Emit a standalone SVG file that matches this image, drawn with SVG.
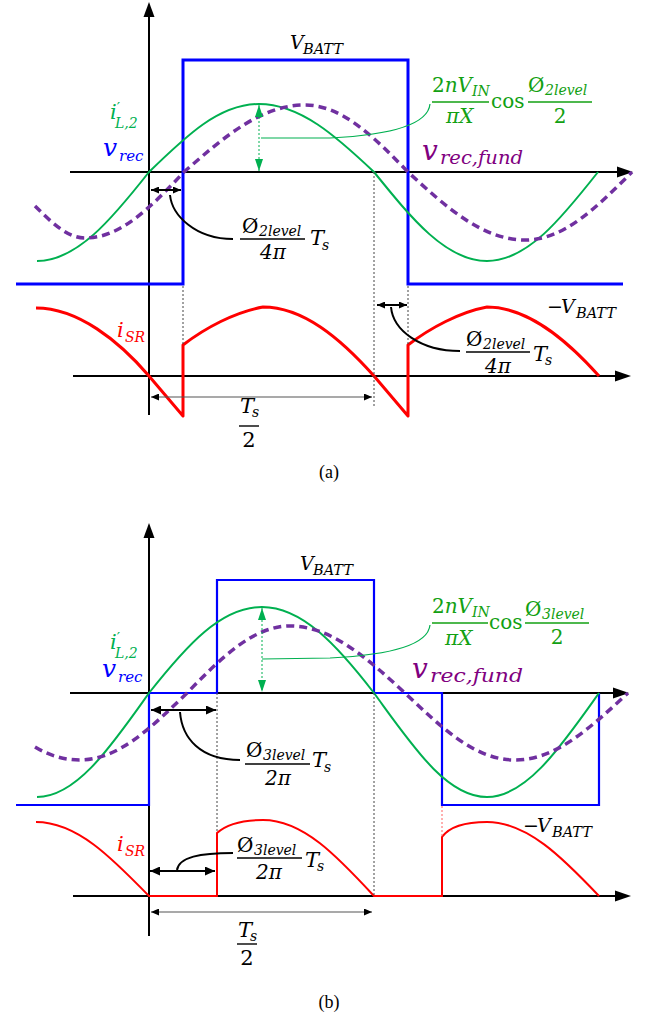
<svg xmlns="http://www.w3.org/2000/svg" width="652" height="1022" viewBox="0 0 652 1022">
<style>
.ax{stroke:#000;stroke-width:2;fill:none}
.bA{stroke:#0000FF;stroke-width:3;fill:none}
.bB{stroke:#0000FF;stroke-width:2.2;fill:none}
.gr{stroke:#00B050;stroke-width:2;fill:none}
.pu{stroke:#7030A0;stroke-width:3.5;stroke-dasharray:8 5;fill:none}
.rA{stroke:#FF0000;stroke-width:3;fill:none;stroke-linejoin:round}
.rB{stroke:#FF0000;stroke-width:2;fill:none}
.dt{stroke:#444;stroke-width:1;stroke-dasharray:2 2;fill:none}
.dr{stroke:#FF6060;stroke-width:1;stroke-dasharray:2 2;fill:none}
.ld{stroke:#000;stroke-width:2;fill:none}
.lg{stroke:#00B050;stroke-width:1.2;fill:none}
.dim{stroke:#555;stroke-width:1.2;fill:none}
.dimB{stroke:#000;stroke-width:2;fill:none}
.ga{stroke:#00B050;stroke-width:1;stroke-dasharray:2 2;fill:none}
.bar{stroke:#000;stroke-width:1.4}
.barg{stroke:#12A012;stroke-width:1.6}
.m{font-family:"DejaVu Serif","Liberation Serif",serif;font-style:italic}
.u{font-family:"DejaVu Serif","Liberation Serif",serif;font-style:normal}
.cap{font-family:"Liberation Serif","Times New Roman",serif;font-size:18px;text-anchor:middle}
.k{fill:#000}
.fg{fill:#12A012}
.lgc{fill:#00B050}
.bl{fill:#0000FF}
.pp{fill:#800080}
.rd{fill:#FF0000}
</style>
<defs>
<marker id="ah" viewBox="0 0 8 7" refX="8" refY="3.5" markerWidth="8" markerHeight="7" markerUnits="userSpaceOnUse" orient="auto-start-reverse"><path d="M0,0 L8,3.5 L0,7 z" fill="#000"/></marker>
<marker id="ahb" viewBox="0 0 10 9" refX="10" refY="4.5" markerWidth="10" markerHeight="9" markerUnits="userSpaceOnUse" orient="auto-start-reverse"><path d="M0,0 L10,4.5 L0,9 z" fill="#000"/></marker>
<marker id="ahg" viewBox="0 0 12 8" refX="12" refY="4" markerWidth="12" markerHeight="8" markerUnits="userSpaceOnUse" orient="auto-start-reverse"><path d="M0,0 L12,4 L0,8 z" fill="#00B050"/></marker>
</defs>

<!-- ===== Panel (a) ===== -->
<g id="axes-a">
<line class="ax" x1="149" y1="15" x2="149" y2="415"/>
<path d="M149,2 L143.5,17 L154.5,17 z" fill="#000"/>
<line class="ax" x1="70" y1="172" x2="619" y2="172"/>
<path d="M633,172 L617,166.5 L617,177.5 z" fill="#000"/>
<line class="ax" x1="73" y1="376" x2="617" y2="376"/>
<path d="M631,376 L615,370.5 L615,381.5 z" fill="#000"/>
</g>
<g id="waves-a">
<path id="vrec-a" class="bA" d="M16,284 L183,284 L183,60 L408,60 L408,284 L623,284"/>
<path id="iL-a" class="gr" d="M37,261 C77,261 112,219 149,172 C186,136 219,104 259,104 C300,104 336,136 374,172 C412,219 446,261 487,261 C527,261 561,219 598,172"/>
<path id="vfund-a" class="pu" d="M35,206 C50,221 67,238 85,238 C121,238 151,207 184,172 C224,137 261,105 305,105 C342,105 374,137 408,172 C447,208 483,240 525,240 C564,240 596,208 632,172"/>
<path id="isr-a" class="rA" d="M36,308 C78,308 119,341 149,376 L183,416 L183,345 C205,328 235,312 263,307 C303,307 340,338 374,376 L408,416 L408,345 C430,328 460,312 487,307 C527,307 565,338 599,376"/>
</g>
<g id="connectors-a">
<line class="dt" x1="183" y1="286" x2="183" y2="345"/>
<line class="dt" x1="374" y1="172" x2="374" y2="408"/>
<line class="dt" x1="408" y1="286" x2="408" y2="345"/>
<line class="ga" x1="259" y1="105" x2="259" y2="171" marker-start="url(#ahg)" marker-end="url(#ahg)"/>
<path class="lg" d="M261,138 L330,138 C390,135 428,125 430,104"/>
<line class="ld" x1="151" y1="190" x2="181" y2="190" stroke-width="1.4" marker-start="url(#ah)" marker-end="url(#ah)"/>
<path class="ld" d="M170,195 C172,215 195,239 233,239"/>
<line class="ld" x1="377" y1="305" x2="407" y2="305" stroke-width="1.4" marker-start="url(#ah)" marker-end="url(#ah)"/>
<path class="ld" d="M391,307 C393,330 420,351 460,351"/>
<line class="dim" x1="151" y1="397" x2="372" y2="397" marker-start="url(#ah)" marker-end="url(#ah)"/>
</g>
<g id="labels-a">
<g id="vbatt-a"><text class="m k" x="290" y="49" font-size="19">V</text><text class="m k" x="303" y="54" font-size="14.5">BATT</text></g>
<g id="iL-label-a"><text class="m lgc" x="110" y="119" font-size="21">i<tspan class="u" font-size="15" dy="-6">′</tspan><tspan x="115" dy="15" font-size="14">L,2</tspan></text></g>
<g id="vrec-label-a"><text class="m bl" x="103" y="156" font-size="25">v</text><text class="m bl" x="119" y="161" font-size="15">rec</text></g>
<g id="vfund-label-a"><text class="m pp" x="422" y="160" font-size="28">v</text><text class="m pp" x="440" y="164" font-size="19" textLength="83" lengthAdjust="spacingAndGlyphs">rec,fund</text></g>
<g id="formula-a">
<text class="u fg" x="432" y="92" font-size="20">2<tspan class="m">nV</tspan></text><text class="m fg" x="472" y="96" font-size="14">IN</text>
<line class="barg" x1="432" y1="102" x2="489" y2="102"/>
<text class="m fg" x="446" y="123" font-size="20">πX</text>
<text class="u fg" x="491" y="108" font-size="20">cos</text>
<line class="barg" x1="528" y1="102" x2="592" y2="102"/>
<text class="u fg" x="528" y="92" font-size="20">Ø</text><text class="m fg" x="545" y="95" font-size="14">2level</text>
<text class="u fg" x="560" y="123" font-size="20" text-anchor="middle">2</text>
</g>
<g id="phi1-a">
<text class="u k" x="242" y="233" font-size="20">Ø</text><text class="m k" x="259" y="236" font-size="14">2level</text>
<line class="bar" x1="240" y1="239" x2="305" y2="239"/>
<text class="m k" x="273" y="259" font-size="20" text-anchor="middle">4π</text>
<text class="m k" x="310" y="245" font-size="21">T</text><text class="m k" x="322" y="250" font-size="14">s</text>
</g>
<g id="phi2-a">
<text class="u k" x="466" y="346" font-size="20">Ø</text><text class="m k" x="483" y="349" font-size="14">2level</text>
<line class="bar" x1="466" y1="352" x2="530" y2="352"/>
<text class="m k" x="498" y="373" font-size="20" text-anchor="middle">4π</text>
<text class="m k" x="533" y="361" font-size="21">T</text><text class="m k" x="545" y="365" font-size="14">s</text>
</g>
<g id="mvbatt-a"><text class="u k" x="547" y="313" font-size="19">−</text><text class="m k" x="561" y="313" font-size="19">V</text><text class="m k" x="576" y="318" font-size="14.5">BATT</text></g>
<g id="isr-label-a"><text class="m rd" x="117" y="337" font-size="21">i</text><text class="m rd" x="125" y="342" font-size="14">SR</text></g>
<g id="ts2-a">
<text class="m k" x="240" y="413" font-size="21">T</text><text class="m k" x="252" y="417" font-size="14">s</text>
<line class="bar" x1="239" y1="426" x2="259" y2="426"/>
<text class="u k" x="249" y="447" font-size="21" text-anchor="middle">2</text>
</g>
<text id="cap-a" class="cap" x="329" y="478">(a)</text>
</g>

<!-- ===== Panel (b) ===== -->
<g id="axes-b">
<line class="ax" x1="149" y1="536" x2="149" y2="936"/>
<path d="M149,523 L143.5,538 L154.5,538 z" fill="#000"/>
<line class="ax" x1="70" y1="693" x2="615" y2="693"/>
<path d="M629,693 L613,687.5 L613,698.5 z" fill="#000"/>
<line class="ax" x1="73" y1="896" x2="617" y2="896"/>
<path d="M631,896 L615,890.5 L615,901.5 z" fill="#000"/>
</g>
<g id="waves-b">
<path id="vrec-b" class="bB" d="M16,805 L149,805 L149,693 L217,693 L217,580 L374,580 L374,693 L442,693 L442,805 L599,805 L599,693"/>
<path id="iL-b" class="gr" d="M37,797 C77,797 112,745 149,693 C187,645 221,607 262,607 C302,607 337,645 374,693 C412,745 446,797 487,797 C527,797 562,745 599,693"/>
<path id="vfund-b" class="pu" d="M35,747 C50,756 65,760 80,760 C118,760 151,728 187,693 C221,658 253,626 290,626 C331,626 367,658 405,693 C442,728 475,760 515,760 C556,760 590,728 628,693"/>
<path id="isr-b" class="rB" d="M36,822 C77,822 112,858 149,896 L217,896 L217,833 C228,823 245,820 263,820 C303,820 337,856 374,896 L442,896 L442,837 C450,826 468,822 487,822 C527,822 562,857 599,896"/>
</g>
<g id="connectors-b">
<line class="dt" x1="217" y1="693" x2="217" y2="833"/>
<line class="dt" x1="374" y1="693" x2="374" y2="896"/>
<line class="dr" x1="442" y1="806" x2="442" y2="837"/>
<line class="ga" x1="262" y1="608" x2="262" y2="692" marker-start="url(#ahg)" marker-end="url(#ahg)"/>
<path class="lg" d="M262,659 L330,658 C390,655 428,645 430,625"/>
<line class="dimB" x1="151" y1="710" x2="216" y2="710" marker-start="url(#ahb)" marker-end="url(#ahb)"/>
<path class="ld" d="M180,712 C182,738 200,760 240,760"/>
<line class="dimB" x1="150" y1="871" x2="215" y2="871" marker-start="url(#ahb)" marker-end="url(#ahb)"/>
<path class="ld" d="M177,870 C179,857 200,853 233,853"/>
<line class="dim" x1="151" y1="912" x2="372" y2="912" marker-start="url(#ah)" marker-end="url(#ah)"/>
</g>
<g id="labels-b">
<g id="vbatt-b"><text class="m k" x="300" y="570" font-size="19">V</text><text class="m k" x="313" y="575" font-size="14.5">BATT</text></g>
<g id="iL-label-b"><text class="m lgc" x="110" y="649" font-size="21">i<tspan class="u" font-size="15" dy="-6">′</tspan><tspan x="115" dy="15" font-size="14">L,2</tspan></text></g>
<g id="vrec-label-b"><text class="m bl" x="102" y="677" font-size="25">v</text><text class="m bl" x="118" y="682" font-size="15">rec</text></g>
<g id="vfund-label-b"><text class="m pp" x="412" y="678" font-size="28">v</text><text class="m pp" x="430" y="682" font-size="19" textLength="93" lengthAdjust="spacingAndGlyphs">rec,fund</text></g>
<g id="formula-b">
<text class="u fg" x="432" y="613" font-size="20">2<tspan class="m">nV</tspan></text><text class="m fg" x="472" y="617" font-size="14">IN</text>
<line class="barg" x1="432" y1="623" x2="488" y2="623"/>
<text class="m fg" x="445" y="645" font-size="20">πX</text>
<text class="u fg" x="489" y="629" font-size="20">cos</text>
<line class="barg" x1="525" y1="623" x2="589" y2="623"/>
<text class="u fg" x="525" y="616" font-size="20">Ø</text><text class="m fg" x="542" y="619" font-size="14">3level</text>
<text class="u fg" x="557" y="644" font-size="20" text-anchor="middle">2</text>
</g>
<g id="phi1-b">
<text class="u k" x="246" y="757" font-size="20">Ø</text><text class="m k" x="263" y="760" font-size="14">3level</text>
<line class="bar" x1="245" y1="764" x2="310" y2="764"/>
<text class="m k" x="278" y="785" font-size="20" text-anchor="middle">2π</text>
<text class="m k" x="312" y="767" font-size="21">T</text><text class="m k" x="324" y="772" font-size="14">s</text>
</g>
<g id="phi2-b">
<text class="u k" x="237" y="852" font-size="20">Ø</text><text class="m k" x="254" y="855" font-size="14">3level</text>
<line class="bar" x1="237" y1="858" x2="302" y2="858"/>
<text class="m k" x="269" y="879" font-size="20" text-anchor="middle">2π</text>
<text class="m k" x="305" y="867" font-size="21">T</text><text class="m k" x="317" y="871" font-size="14">s</text>
</g>
<g id="mvbatt-b"><text class="u k" x="523" y="832" font-size="19">−</text><text class="m k" x="537" y="832" font-size="19">V</text><text class="m k" x="552" y="837" font-size="14.5">BATT</text></g>
<g id="isr-label-b"><text class="m rd" x="117" y="851" font-size="21">i</text><text class="m rd" x="125" y="856" font-size="14">SR</text></g>
<g id="ts2-b">
<text class="m k" x="238" y="937" font-size="21">T</text><text class="m k" x="250" y="941" font-size="14">s</text>
<line class="bar" x1="237" y1="944" x2="257" y2="944"/>
<text class="u k" x="247" y="965" font-size="21" text-anchor="middle">2</text>
</g>
<text id="cap-b" class="cap" x="329" y="1008">(b)</text>
</g>
</svg>
